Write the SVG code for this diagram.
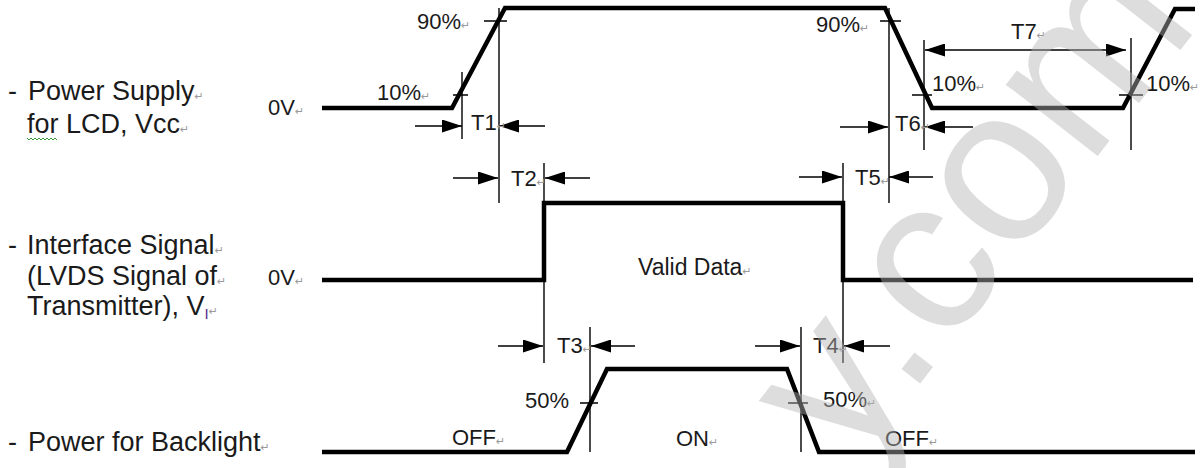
<svg xmlns="http://www.w3.org/2000/svg" width="1204" height="468" viewBox="0 0 1204 468">
<style>
.wave{fill:none;stroke:#000;stroke-width:4.5;stroke-linejoin:miter}
.thin{fill:none;stroke:#000;stroke-width:1.4}
.arr{fill:none;stroke:#000;stroke-width:1.4;marker-end:url(#ah)}
.lbl{font-family:"Liberation Sans",Arial,sans-serif;font-size:22px;fill:#1a1a1a}
.big{font-size:27px}
.pm{font-family:"DejaVu Sans",sans-serif;font-size:11px;fill:#9a9a9a}
.wm{font-family:"Liberation Sans",Arial,sans-serif;font-size:220px;fill:#b4b4b4;opacity:0.45}
</style>
<defs>
<marker id="ah" viewBox="0 0 20 13" refX="20" refY="6.5" markerWidth="20" markerHeight="13" markerUnits="userSpaceOnUse" orient="auto-start-reverse">
<path d="M0,0 L20,6.5 L0,13 z" fill="#000"/>
</marker>
</defs>
<rect width="1204" height="468" fill="#fff"/>

<g id="label-power-supply" class="lbl big">
<text x="8" y="100">-</text>
<text x="28" y="100">Power Supply<tspan class="pm">↵</tspan></text>
<text x="27" y="133">for LCD, Vcc<tspan class="pm">↵</tspan></text>
<path d="M27,138 l2,2 l2,-2 l2,2 l2,-2 l2,2 l2,-2 l2,2 l2,-2 l2,2 l2,-2 l2,2 l2,-2 l2,2 l2,-2 l2,2" fill="none" stroke="#3a9a3a" stroke-width="1"/>
</g>
<g id="label-interface" class="lbl big">
<text x="8" y="254">-</text>
<text x="27" y="254">Interface Signal<tspan class="pm">↵</tspan></text>
<text x="27" y="285">(LVDS Signal of<tspan class="pm">↵</tspan></text>
<text x="27" y="315">Transmitter), V<tspan font-size="15" dy="4" fill="#5a2a8a">I</tspan><tspan class="pm" dy="-4">↵</tspan></text>
</g>
<g id="label-backlight" class="lbl big">
<text x="8" y="451">-</text>
<text x="28" y="451">Power for Backlight<tspan class="pm">↵</tspan></text>
</g>

<g id="wave-vcc">
<path class="wave" d="M322,108 L452,108 L505,8 L885,8 L932,108 L1123,108 L1175,9 L1195,9"/>
<text class="lbl" x="268" y="115">0V<tspan class="pm">↵</tspan></text>
</g>
<g id="wave-interface">
<path class="wave" d="M322,280 L544,280 L544,203 L843,203 L843,280 L1193,280"/>
<text class="lbl" x="268" y="285">0V<tspan class="pm">↵</tspan></text>
<text class="lbl" x="638" y="275" style="font-size:23px">Valid Data<tspan class="pm">↵</tspan></text>
</g>
<g id="wave-backlight">
<path class="wave" d="M322,452 L567,452 L607,369 L787,369 L819,452 L1195,452"/>
<text class="lbl" x="452" y="445">OFF<tspan class="pm">↵</tspan></text>
<text class="lbl" x="676" y="446">ON<tspan class="pm">↵</tspan></text>
<text class="lbl" x="885" y="446">OFF<tspan class="pm">↵</tspan></text>
</g>

<g id="connectors">
<!-- reference lines -->
<path class="thin" d="M462,72 V139 M499,8 V203 M889,8 V203 M924,40 V150 M1131,38 V150 M544,163 V363 M843,163 V363 M590,327 V452 M801,327 V452"/>
<!-- level ticks -->
<path class="thin" d="M484,21 H507 M453,95 H468 M880,21 H901 M912,95 H932 M1119,95 H1143 M580,403 H598 M788,403 H808"/>
<!-- T1 -->
<line class="arr" x1="415" y1="126" x2="462" y2="126"/>
<line class="arr" x1="545" y1="126" x2="499" y2="126"/>
<!-- T6 -->
<line class="arr" x1="840" y1="127" x2="888" y2="127"/>
<line class="arr" x1="973" y1="127" x2="925" y2="127"/>
<!-- T7 -->
<line class="arr" x1="925" y1="50" x2="1126" y2="50" style="marker-start:url(#ah)"/>
<!-- T2 -->
<line class="arr" x1="453" y1="178" x2="498" y2="178"/>
<line class="arr" x1="590" y1="178" x2="545" y2="178"/>
<!-- T5 -->
<line class="arr" x1="799" y1="177" x2="842" y2="177"/>
<line class="arr" x1="933" y1="177" x2="889" y2="177"/>
<!-- T3 -->
<line class="arr" x1="498" y1="346" x2="543" y2="346"/>
<line class="arr" x1="635" y1="346" x2="591" y2="346"/>
<!-- T4 -->
<line class="arr" x1="755" y1="346" x2="800" y2="346"/>
<line class="arr" x1="890" y1="346" x2="844" y2="346"/>
</g>

<g id="annotations" class="lbl">
<text x="417" y="29">90%<tspan class="pm">↵</tspan></text>
<text x="377" y="100">10%<tspan class="pm">↵</tspan></text>
<text x="471" y="130">T1<tspan class="pm">↵</tspan></text>
<text x="816" y="32">90%<tspan class="pm">↵</tspan></text>
<text x="932" y="91">10%<tspan class="pm">↵</tspan></text>
<text x="895" y="131">T6<tspan class="pm">↵</tspan></text>
<text x="1011" y="39">T7<tspan class="pm">↵</tspan></text>
<text x="1146" y="91">10%<tspan class="pm">↵</tspan></text>
<text x="511" y="186">T2<tspan class="pm">↵</tspan></text>
<text x="855" y="185">T5<tspan class="pm">↵</tspan></text>
<text x="557" y="353">T3<tspan class="pm">↵</tspan></text>
<text x="813" y="353">T4<tspan class="pm">↵</tspan></text>
<text x="525" y="408">50%</text>
<text x="823" y="407">50%<tspan class="pm">↵</tspan></text>
</g>

<text class="wm" x="0" y="0" transform="translate(850,473) rotate(-52)">y.com</text>
</svg>
